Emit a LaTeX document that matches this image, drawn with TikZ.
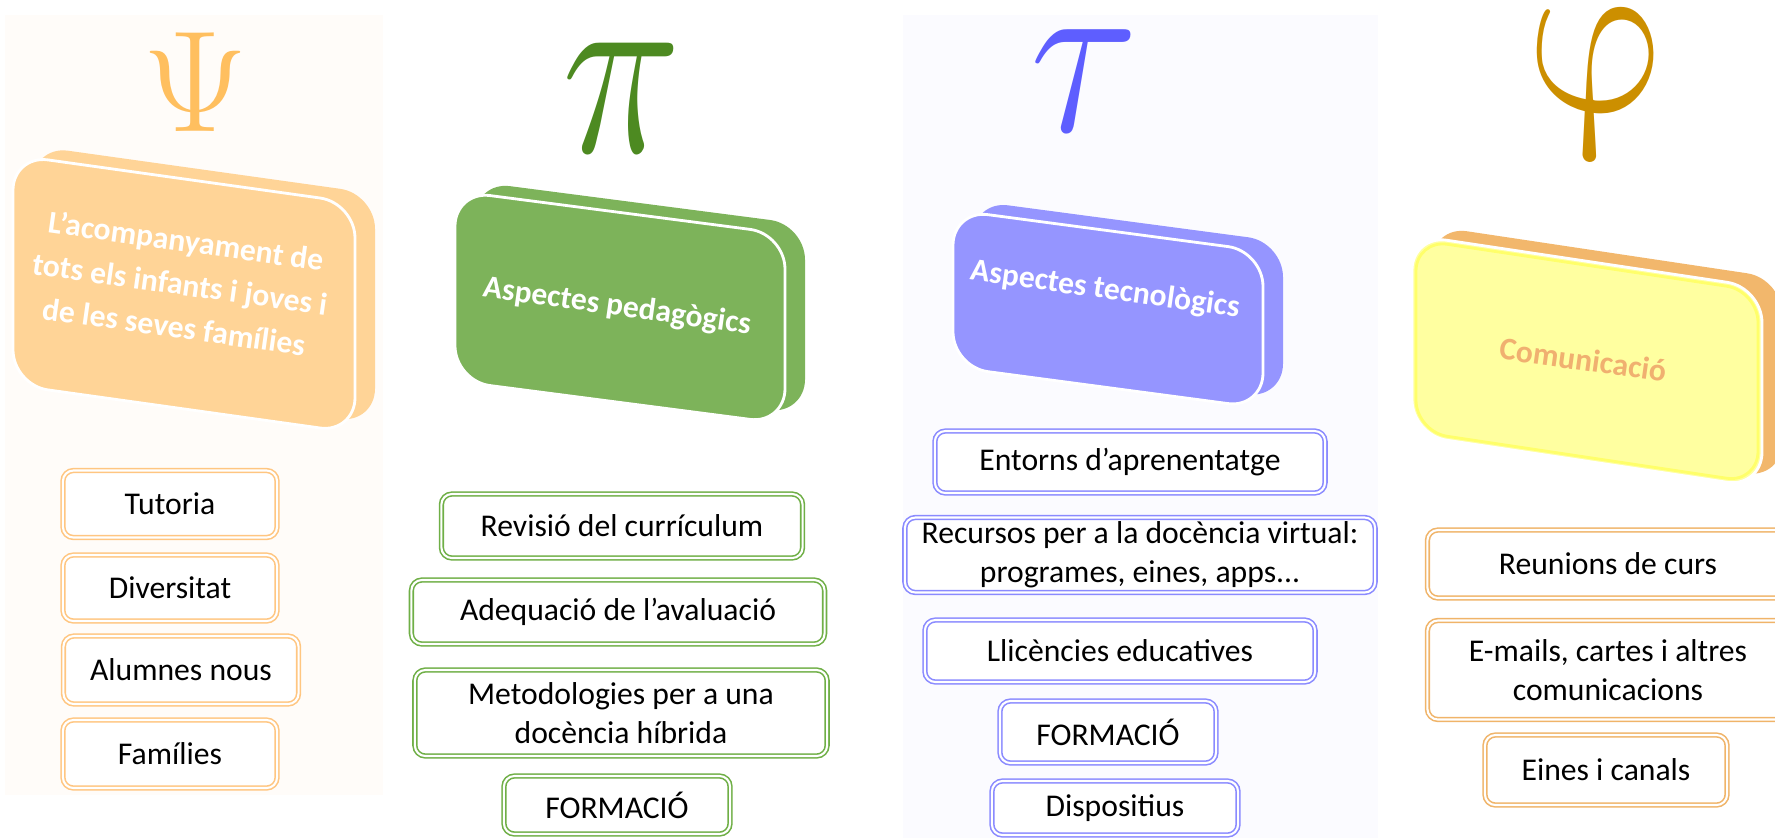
\documentclass[tikz,border=0pt]{standalone}
\usepackage[no-math]{fontspec}
\setmainfont{Carlito}
\definecolor{psiface}{HTML}{FFD497}
\definecolor{psiglyph}{HTML}{FFBF5F}
\definecolor{psiline}{HTML}{FFC681}
\definecolor{piface}{HTML}{7DB35A}
\definecolor{piglyph}{HTML}{4D8A21}
\definecolor{piline}{HTML}{6FAF46}
\definecolor{tauface}{HTML}{9595FF}
\definecolor{tauglyph}{HTML}{5E5EFF}
\definecolor{tauline}{HTML}{8A8AFF}
\definecolor{phiface}{HTML}{FFFFA0}
\definecolor{phiband}{HTML}{FFFF6A}
\definecolor{phiback}{HTML}{F2B76C}
\definecolor{phiglyph}{HTML}{CC8F00}
\definecolor{phitext}{HTML}{F0B070}
\definecolor{philine}{HTML}{F0B469}
\definecolor{panelA}{HTML}{FFFCF9}
\definecolor{panelC}{HTML}{FBFBFF}
\begin{document}
\begin{tikzpicture}[x=0.01cm,y=-0.01cm,
    slabback/.style={fill=#1,rounded corners=10pt},
    slabfront/.style={fill=#1,draw=white,line width=0.8pt,rounded corners=10pt},
    slabtext/.style={text=#1,font=\fontsize{9}{12.3}\selectfont\bfseries,align=center,rotate=-8,inner sep=0pt},
    listbox/.style={draw=#1,fill=white,line width=0.45pt,double=white,double distance=0.6pt,
        rounded corners=3pt,align=center,inner sep=1pt,font=\fontsize{9}{11}\selectfont},
    greek/.style={text=#1,font=\Huge,inner sep=0pt}]
    \clip (0,0) rectangle (1775,838);
    \fill[white] (0,0) rectangle (1775,838);
    \fill[panelA] (5,15) rectangle (383,795);
    \fill[panelC] (903,15) rectangle (1378,838);

    % symbols
    \node[greek=psiglyph,scale=1.65] (psi) at (195,82) {$\Psi$};
    \node[greek=piglyph,xscale=2.3,yscale=2.9] (pisym) at (622,98) {$\pi$};
    \node[greek=tauglyph,xscale=2.3,yscale=2.7] (tau) at (1085,81) {$\tau$};
    \node[greek=phiglyph,xscale=2.45,yscale=2.7,xslant=-0.25] (phi) at (1601,84) {$\varphi$};

    % slabs
    \begin{scope}[shift={(13,155)},yslant=-0.14]
        \fill[slabback=psiface] (20,-12) rectangle (362,218);
        \filldraw[slabfront=psiface] (0,0) rectangle (342,230);
        \node[slabtext=white] (acomp) at (167,105) {L’acompanyament de\\tots els infants i joves i\\de les seves famílies};
    \end{scope}
    \begin{scope}[shift={(455,191)},yslant=-0.13]
        \fill[slabback=piface] (20,-12) rectangle (350,178);
        \filldraw[slabfront=piface] (0,0) rectangle (330,190);
        \node[slabtext=white] (pedag) at (162,95) {Aspectes pedagògics};
    \end{scope}
    \begin{scope}[shift={(953,210)},yslant=-0.133]
        \fill[slabback=tauface] (20,-12) rectangle (330,145);
        \filldraw[slabfront=tauface] (0,0) rectangle (310,157);
        \node[slabtext=white] (tecno) at (152,60) {Aspectes tecnològics};
    \end{scope}
    \begin{scope}[shift={(1412,235)},yslant=-0.15]
        \fill[slabback=phiback] (20,-12) rectangle (370,188);
        \filldraw[slabfront=phiface] (0,0) rectangle (350,200);
        \draw[phiband,line width=0.8pt,rounded corners=9pt] (4,4) rectangle (346,196);
        \node[slabtext=phitext] (comun) at (171,99) {Comunicació};
    \end{scope}

    % psi column
    \node[listbox=psiline,minimum width=2.14cm,minimum height=0.67cm] (tutoria) at (170,504) {Tutoria};
    \node[listbox=psiline,minimum width=2.14cm,minimum height=0.66cm] (diversitat) at (170,588) {Diversitat};
    \node[listbox=psiline,minimum width=2.35cm,minimum height=0.68cm] (alumnes) at (181,670) {Alumnes nous};
    \node[listbox=psiline,minimum width=2.14cm,minimum height=0.68cm] (families) at (170,754) {Famílies};

    % pi column
    \node[listbox=piline,minimum width=3.61cm,minimum height=0.64cm] (revisio) at (622,526) {Revisió del currículum};
    \node[listbox=piline,minimum width=4.13cm,minimum height=0.64cm] (adequacio) at (618,612) {Adequació de l’avaluació};
    \node[listbox=piline,minimum width=4.12cm,minimum height=0.86cm] (metodol) at (621,713) {Metodologies per a una\\docència híbrida};
    \node[listbox=piline,minimum width=2.26cm,minimum height=0.58cm] (formacioA) at (617,805) {FORMACIÓ};

    % tau column
    \node[listbox=tauline,minimum width=3.90cm,minimum height=0.62cm] (entorns) at (1130,462) {Entorns d’aprenentatge};
    \node[listbox=tauline,minimum width=4.70cm,minimum height=0.75cm] (recursos) at (1140,555) {Recursos per a la docència virtual:\\programes, eines, apps...};
    \node[listbox=tauline,minimum width=3.90cm,minimum height=0.62cm] (llicencies) at (1120,651) {Llicències educatives};
    \node[listbox=tauline,minimum width=2.16cm,minimum height=0.62cm] (formacioB) at (1108,732) {FORMACIÓ};
    \node[listbox=tauline,minimum width=2.46cm,minimum height=0.54cm] (dispositius) at (1115,808) {Dispositius};

    % phi column
    \node[listbox=philine,minimum width=3.61cm,minimum height=0.68cm] (reunions) at (1608,564) {Reunions de curs};
    \node[listbox=philine,minimum width=3.61cm,minimum height=0.99cm] (emails) at (1608,670) {E-mails, cartes i altres\\comunicacions};
    \node[listbox=philine,minimum width=2.42cm,minimum height=0.70cm] (eines) at (1606,770) {Eines i canals};
\end{tikzpicture}
\end{document}
